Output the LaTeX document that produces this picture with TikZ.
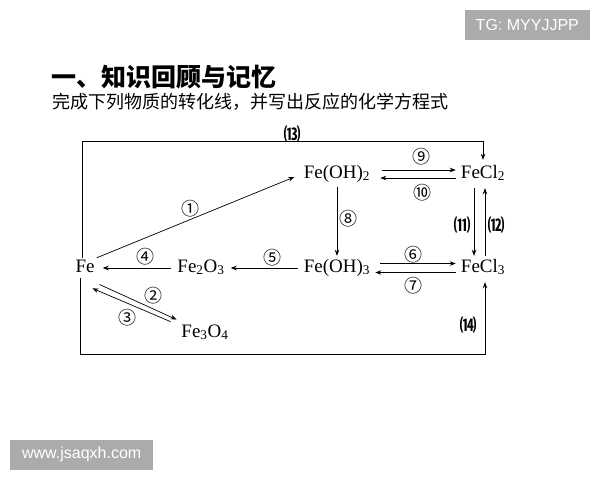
\documentclass[tikz,border=0pt]{standalone}
\usepackage{fontspec}
\setmainfont{Liberation Serif}
\setsansfont{Liberation Sans}
\newfontfamily\cjk{Noto Sans CJK SC}
\usetikzlibrary{arrows.meta}
\begin{document}
\begin{tikzpicture}[x=1pt,y=-1pt,
    chem/.style={font=\fontsize{19}{19}\selectfont, inner sep=2pt,
        text height=12pt, text depth=4pt},
    num/.style={font=\cjk\fontsize{18}{18}\selectfont, inner sep=0pt},
    paren/.style={font=\cjk\bfseries\fontsize{17}{17}\selectfont, inner sep=0pt},
    arr/.style={-{Stealth[length=6pt,width=4.5pt]}, line width=0.7pt},
    tag/.style={fill=black!33, text=white,
        font=\sffamily\fontsize{16}{16}\selectfont, minimum height=30pt}]
    \useasboundingbox (0,0) rectangle (600,480);
    % watermarks and heading
    \node[tag, anchor=north east, minimum width=125pt] (tg) at (590,10) {TG: MYYJJPP};
    \node[tag, anchor=south west, minimum width=143pt] (www) at (10,470) {www.jsaqxh.com};
    \node[anchor=base west, inner sep=0pt, font=\cjk\bfseries\fontsize{25}{25}\selectfont]
        (title) at (51,86) {一、知识回顾与记忆};
    \node[anchor=base west, inner sep=0pt, font=\cjk\fontsize{18}{18}\selectfont]
        (task) at (52,108) {完成下列物质的转化线，并写出反应的化学方程式};
    % substances
    \node[chem] (fe)    at (85,268)  {Fe};
    \node[chem] (fe2o3) at (201,268) {Fe\textsubscript{2}O\textsubscript{3}};
    \node[chem] (feoh3) at (337,268) {Fe(OH)\textsubscript{3}};
    \node[chem] (fecl3) at (483,268) {FeCl\textsubscript{3}};
    \node[chem] (feoh2) at (337,174) {Fe(OH)\textsubscript{2}};
    \node[chem] (fecl2) at (483,174) {FeCl\textsubscript{2}};
    \node[chem] (fe3o4) at (205,333) {Fe\textsubscript{3}O\textsubscript{4}};
    % conversions
    \draw[arr, shorten >=8pt] (fe.north east) -- (feoh2.west);
    \draw[arr, shorten <=3pt, shorten >=3pt] ([yshift=-5pt]fe.south east) -- ([yshift=2pt]fe3o4.north west);
    \draw[arr, shorten <=3pt, shorten >=3pt] ([xshift=-6pt]fe3o4.north west) -- ([xshift=-7pt,yshift=-9pt]fe.south east);
    \draw[arr, shorten <=4pt, shorten >=6pt] (fe2o3.west) -- (fe.east);
    \draw[arr, shorten <=4pt, shorten >=4pt] (feoh3.west) -- (fe2o3.east);
    \draw[arr, shorten <=8pt, shorten >=3pt] ([yshift=4.5pt]feoh3.east) -- ([yshift=4.5pt]fecl3.west);
    \draw[arr, shorten <=3pt, shorten >=3pt] ([yshift=-4.5pt]fecl3.west) -- ([yshift=-4.5pt]feoh3.east);
    \draw[arr, shorten <=3pt, shorten >=2pt] (feoh2.south) -- (feoh3.north);
    \draw[arr, shorten <=10pt, shorten >=3pt] ([yshift=4pt]feoh2.east) -- ([yshift=4pt]fecl2.west);
    \draw[arr, shorten <=3pt, shorten >=8pt] ([yshift=-4pt]fecl2.west) -- ([yshift=-4pt]feoh2.east);
    \draw[arr, shorten <=4pt, shorten >=2pt] ([xshift=-9pt]fecl2.south) -- ([xshift=-9pt]fecl3.north);
    \draw[arr, shorten <=2pt, shorten >=4pt] ([xshift=2pt]fecl3.north) -- ([xshift=2pt]fecl2.south);
    \draw[arr, shorten >=4pt] ([xshift=-3pt]fe.north) -- ++(0,-116) -| (fecl2.north);
    \draw[arr, shorten >=4pt] ([xshift=-5pt]fe.south) -- ++(0,76) -| ([xshift=2pt]fecl3.south);
    % numbers
    \node[num] (n1)  at (190,209) {①};
    \node[num] (n2)  at (153,296) {②};
    \node[num] (n3)  at (127,318) {③};
    \node[num] (n4)  at (145,257) {④};
    \node[num] (n5)  at (272,258) {⑤};
    \node[num] (n6)  at (413,255) {⑥};
    \node[num] (n7)  at (413,286) {⑦};
    \node[num] (n8)  at (348,219) {⑧};
    \node[num] (n9)  at (421,157) {⑨};
    \node[num] (n10) at (422,193) {⑩};
    \node[paren] (n11) at (462,225) {⑾};
    \node[paren] (n12) at (496,225) {⑿};
    \node[paren] (n13) at (292,134) {⒀};
    \node[paren] (n14) at (468,325) {⒁};
\end{tikzpicture}
\end{document}
